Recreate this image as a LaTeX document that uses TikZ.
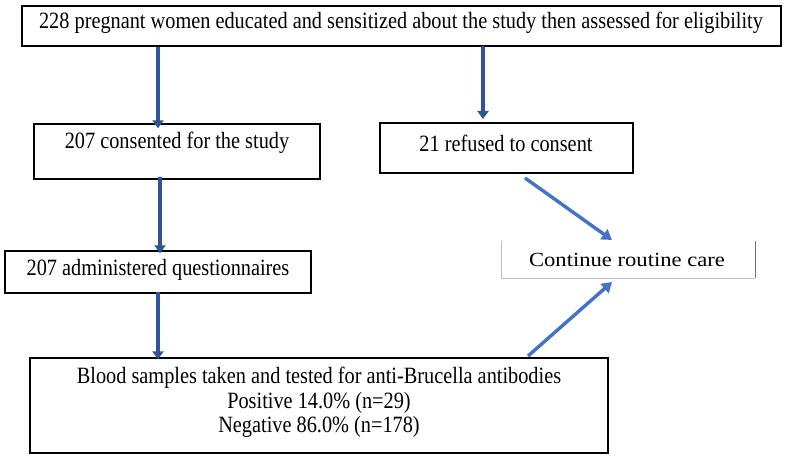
\documentclass[tikz,border=0pt]{standalone}
\usepackage{fontspec}
\setmainfont{Liberation Serif}
\usetikzlibrary{arrows.meta}
\definecolor{vblue}{HTML}{2F5597}
\definecolor{dblue}{HTML}{4472C4}
\tikzset{
  box/.style={draw=black, line width=1.4pt, inner sep=0pt},
  lbl/.style={inner sep=0pt, font=\fontsize{20.3}{24}\selectfont, yscale=1.15},
  varrow/.style={draw=vblue, line width=3.6pt, -{Triangle[width=11pt,length=8pt]}},
  darrow/.style={draw=dblue, line width=3.4pt, -{Triangle[width=12pt,length=10pt]}},
}
\begin{document}
\begin{tikzpicture}[x=1pt,y=-1pt]
\useasboundingbox[fill=white] (0,0) rectangle (786,457);
% boxes
\node[box, minimum width=759pt, minimum height=40pt] (top) at (401.5,26) {};
\node[box, minimum width=286pt, minimum height=55pt] (cons) at (177,151.5) {};
\node[box, minimum width=253pt, minimum height=50pt] (ref) at (506.5,148) {};
\node[box, minimum width=306pt, minimum height=42pt] (adm) at (158,272) {};
\node[inner sep=0pt, minimum width=253pt, minimum height=37pt] (cont) at (628.5,259.5) {};
\node[box, minimum width=578pt, minimum height=95pt] (blood) at (319,405.5) {};
\draw[black!25, line width=1pt] (cont.north west) -- (cont.south west) -- (cont.south east);
\draw[black!55, line width=1.3pt] (cont.south east) -- (cont.north east);
% labels
\node[lbl] (ttop) at (401,23) {228 pregnant women educated and sensitized about the study then assessed for eligibility};
\node[lbl] (tcons) at (177,143) {207 consented for the study};
\node[lbl] (tref) at (506,143) {21 refused to consent};
\node[lbl] (tadm) at (158,270) {207 administered questionnaires};
\node[inner sep=0pt, font=\fontsize{20}{24}\selectfont, xscale=1.13] (tcont) at (627,260) {Continue routine care};
\node[lbl] (tb1) at (319,378) {Blood samples taken and tested for anti-Brucella antibodies};
\node[lbl] (tb2) at (319,403) {Positive 14.0\% (n=29)};
\node[lbl] (tb3) at (319,427) {Negative 86.0\% (n=178)};
% connector ends
\coordinate (r1) at (483,46);
\coordinate (r2) at (483,119);
\coordinate (d1s) at (525,178);
\coordinate (d1e) at (612,240);
\coordinate (d2s) at (528,356);
\coordinate (d2e) at (612,282);
% arrows
\draw[varrow] (top.south -| adm.center) -- ([yshift=-5pt]cons.north -| adm.center);
\draw[varrow] (r1) -- (r2);
\draw[varrow] ([xshift=2pt,yshift=3pt]cons.south -| adm.center) -- ([xshift=2pt,yshift=-3pt]adm.north);
\draw[varrow] ([yshift=2pt]adm.south) -- ([yshift=-2pt]blood.north -| adm.center);
\draw[darrow] (d1s) -- (d1e);
\draw[darrow] (d2s) -- (d2e);
\end{tikzpicture}
\end{document}
